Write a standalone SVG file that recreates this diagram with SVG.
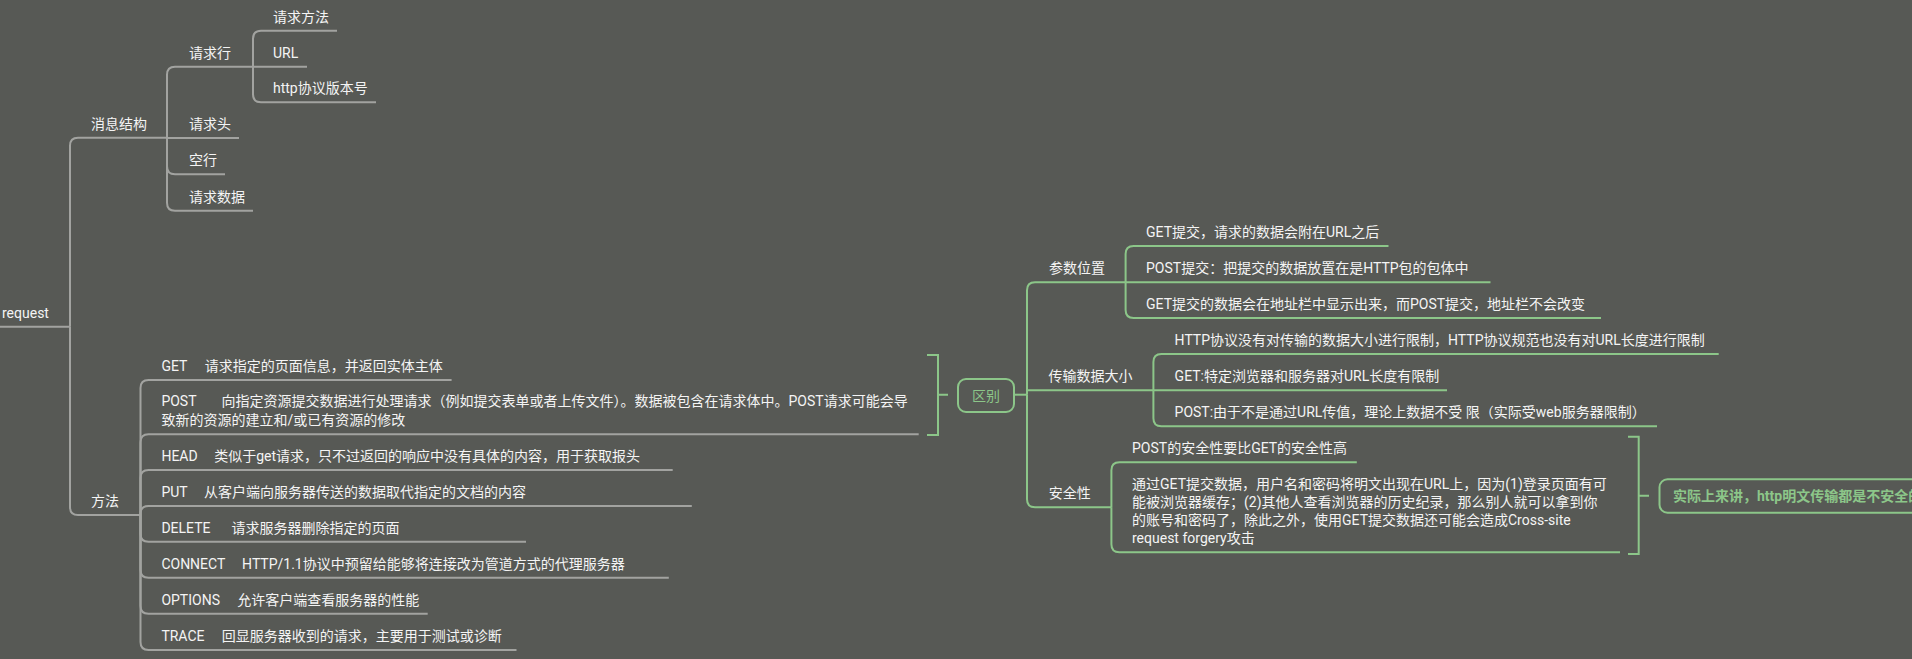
<svg xmlns="http://www.w3.org/2000/svg" width="1912" height="659" viewBox="0 0 1912 659">
<style>
text{font-family:Roboto,"Noto Sans CJK SC",sans-serif;font-size:14px;fill:#f4f4f4}
.g{fill:none;stroke:#a2a3a0;stroke-width:2}
.gr{fill:none;stroke:#8cc689;stroke-width:2}
.gt{fill:#8cc689}
</style>
<rect width="1912" height="659" fill="#575955"/>
<g id="connectors">
<path class="g" d="M0 326.7H70"/>
<path class="g" d="M70 326.7V145.7Q70 137.7 78 137.7H167"/>
<path class="g" d="M70 326.7V507Q70 515 78 515H140.5"/>
<path class="g" d="M167 138V74.7Q167 66.7 175 66.7H253"/>
<path class="g" d="M167 138H239"/>
<path class="g" d="M167 138V166.3Q167 174.3 175 174.3H225"/>
<path class="g" d="M167 138V202.7Q167 210.7 175 210.7H253"/>
<path class="g" d="M253 66.7V38.7Q253 30.7 261 30.7H337"/>
<path class="g" d="M253 66.7H307"/>
<path class="g" d="M253 66.7V94.3Q253 102.3 261 102.3H376"/>
<path class="g" d="M140.5 515V388Q140.5 380 148.5 380H451.6"/>
<path class="g" d="M140.5 515V442.3Q140.5 434.3 148.5 434.3H918.7"/>
<path class="g" d="M140.5 515V478Q140.5 470 148.5 470H672.7"/>
<path class="g" d="M140.5 515V514Q140.5 506 148.5 506H691.8"/>
<path class="g" d="M140.5 515V533.7Q140.5 541.7 148.5 541.7H526"/>
<path class="g" d="M140.5 515V569.7Q140.5 577.7 148.5 577.7H668.8"/>
<path class="g" d="M140.5 515V605.7Q140.5 613.7 148.5 613.7H427.7"/>
<path class="g" d="M140.5 515V642Q140.5 650 148.5 650H516.5"/>
<path class="gr" d="M927 355H938V435H927M938 394.7H948"/>
<path class="gr" d="M1014 394.7H1027"/>
<path class="gr" d="M1027 394.7V290.3Q1027 282.3 1035 282.3H1125.6"/>
<path class="gr" d="M1027 390.3H1153.4"/>
<path class="gr" d="M1027 394.7V499.3Q1027 507.3 1035 507.3H1111.4"/>
<path class="gr" d="M1125.6 282.3V254Q1125.6 246 1133.6 246H1388.5"/>
<path class="gr" d="M1125.6 282.3H1490.5"/>
<path class="gr" d="M1125.6 282.3V310Q1125.6 318 1133.6 318H1601"/>
<path class="gr" d="M1153.4 390.3V362Q1153.4 354 1161.4 354H1718.7"/>
<path class="gr" d="M1153.4 390.3H1447"/>
<path class="gr" d="M1153.4 390.3V418.3Q1153.4 426.3 1161.4 426.3H1657"/>
<path class="gr" d="M1111.4 507.3V470.3Q1111.4 462.3 1119.4 462.3H1356.8"/>
<path class="gr" d="M1111.4 507.3V544.3Q1111.4 552.3 1119.4 552.3H1620"/>
<path class="gr" d="M1628 436.7H1638.7V554H1628M1638.7 495.7H1649"/>
</g>
<g id="n-request"><text x="2" y="317.7">request</text></g>
<g id="n-msg"><text x="91" y="128.7">消息结构</text></g>
<g id="n-line"><text x="189" y="57.7">请求行</text></g>
<g id="n-method-item"><text x="273" y="21.7">请求方法</text></g>
<g id="n-url"><text x="273" y="57.7">URL</text></g>
<g id="n-ver"><text x="273" y="93.3">http协议版本号</text></g>
<g id="n-header"><text x="189" y="129.3">请求头</text></g>
<g id="n-empty"><text x="189" y="165.3">空行</text></g>
<g id="n-data"><text x="189" y="201.7">请求数据</text></g>
<g id="n-methods"><text x="91" y="506">方法</text></g>
<g id="n-get"><text x="161.4" y="371">GET<tspan x="204.8">请求指定的页面信息，并返回实体主体</tspan></text></g>
<g id="n-post"><text x="161.4" y="406">POST<tspan x="221.5">向指定资源提交数据进行处理请求（例如提交表单或者上传文件）。数据被包含在请求体中。POST请求可能会导</tspan><tspan x="161.4" y="424.5">致新的资源的建立和/或已有资源的修改</tspan></text></g>
<g id="n-head"><text x="161.4" y="461">HEAD<tspan x="214.2">类似于get请求，只不过返回的响应中没有具体的内容，用于获取报头</tspan></text></g>
<g id="n-put"><text x="161.4" y="497">PUT<tspan x="203.9">从客户端向服务器传送的数据取代指定的文档的内容</tspan></text></g>
<g id="n-delete"><text x="161.4" y="532.7">DELETE<tspan x="231.4">请求服务器删除指定的页面</tspan></text></g>
<g id="n-connect"><text x="161.4" y="568.7">CONNECT<tspan x="242.1">HTTP/1.1协议中预留给能够将连接改为管道方式的代理服务器</tspan></text></g>
<g id="n-options"><text x="161.4" y="604.7">OPTIONS<tspan x="237.2">允许客户端查看服务器的性能</tspan></text></g>
<g id="n-trace"><text x="161.4" y="641">TRACE<tspan x="221.8">回显服务器收到的请求，主要用于测试或诊断</tspan></text></g>
<g id="n-diff"><rect x="958" y="379" width="56" height="33" rx="8" fill="none" stroke="#8cc689" stroke-width="2"/><text class="gt" x="986" y="400.5" text-anchor="middle">区别</text></g>
<g id="n-param"><text x="1049" y="273.3">参数位置</text></g>
<g id="n-p1"><text x="1146" y="237">GET提交，请求的数据会附在URL之后</text></g>
<g id="n-p2"><text x="1146" y="273.3">POST提交：把提交的数据放置在是HTTP包的包体中</text></g>
<g id="n-p3"><text x="1146" y="309">GET提交的数据会在地址栏中显示出来，而POST提交，地址栏不会改变</text></g>
<g id="n-size"><text x="1048.5" y="381.3">传输数据大小</text></g>
<g id="n-s1"><text x="1174.6" y="345">HTTP协议没有对传输的数据大小进行限制，HTTP协议规范也没有对URL长度进行限制</text></g>
<g id="n-s2"><text x="1174.6" y="381.3">GET:特定浏览器和服务器对URL长度有限制</text></g>
<g id="n-s3"><text x="1174.6" y="417.3">POST:由于不是通过URL传值，理论上数据不受 限（实际受web服务器限制）</text></g>
<g id="n-sec"><text x="1048.7" y="498.3">安全性</text></g>
<g id="n-sec1"><text x="1132" y="453.3">POST的安全性要比GET的安全性高</text></g>
<g id="n-sec2"><text x="1132" y="489">通过GET提交数据，用户名和密码将明文出现在URL上，因为(1)登录页面有可<tspan x="1132" y="507">能被浏览器缓存；(2)其他人查看浏览器的历史纪录，那么别人就可以拿到你</tspan><tspan x="1132" y="525">的账号和密码了，除此之外，使用GET提交数据还可能会造成Cross-site</tspan><tspan x="1132" y="543">request forgery攻击</tspan></text></g>
<g id="n-note"><rect x="1659.5" y="479.3" width="300" height="33.4" rx="8" fill="none" stroke="#8cc689" stroke-width="2"/><text class="gt" x="1673" y="501" font-weight="bold">实际上来讲，http明文传输都是不安全的</text></g>
</svg>
